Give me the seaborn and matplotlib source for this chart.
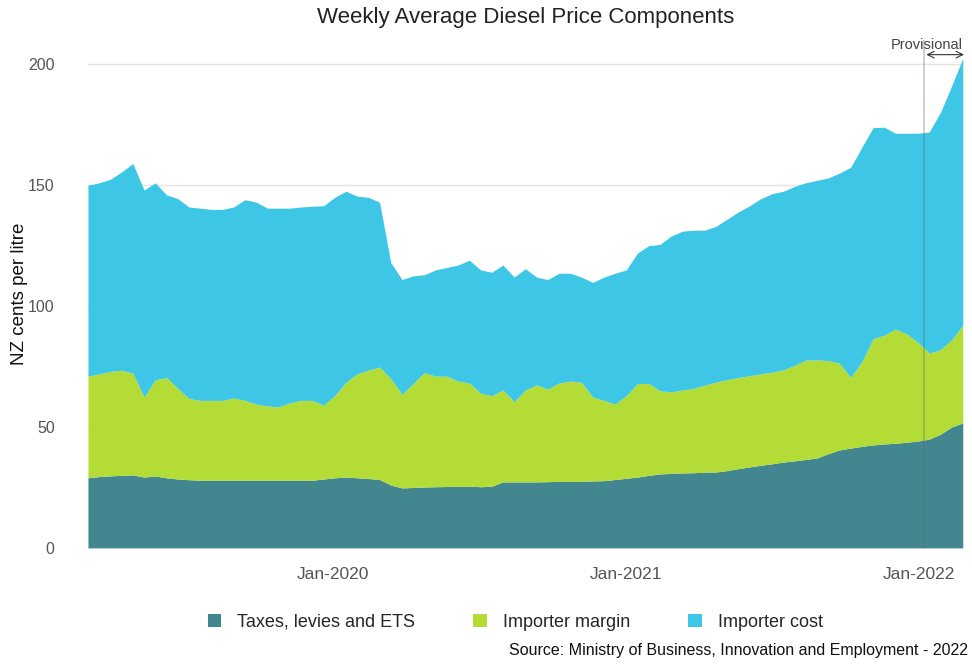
import pandas as pd
import numpy as np
import seaborn as sns
import matplotlib.pyplot as plt
import matplotlib.dates as mdates

# fortnightly readings, cents per litre
weeks = pd.date_range('2019-03-01', periods=79, freq='14D')

taxes = [29, 29.5, 29.8, 30, 30.2, 29.3, 29.7, 29, 28.5, 28.2,
         28, 28, 28, 28, 28, 28, 28, 28, 28, 28,
         28, 28.5, 29, 29.3, 29, 28.7, 28.3, 26, 24.8, 25,
         25.2, 25.3, 25.4, 25.5, 25.6, 25.3, 25.5, 27.3, 27.3, 27.3,
         27.3, 27.4, 27.5, 27.5, 27.6, 27.7, 27.8, 28.3, 28.8, 29.3,
         30, 30.6, 30.8, 31, 31.1, 31.3, 31.4, 32, 32.8, 33.5,
         34.2, 34.8, 35.5, 36, 36.6, 37.2, 39, 40.5, 41.3, 42,
         42.6, 43, 43.3, 43.7, 44.2, 45, 47, 50, 51.7]

margin = [42, 42.5, 43.2, 43.5, 42.1, 33.1, 39.8, 41.5, 37.5, 33.6,
          33, 33, 33, 34, 33, 31.5, 30.7, 30.3, 32, 33,
          33, 30.5, 34, 39.2, 43, 44.8, 46.5, 44, 38.7, 43,
          47.3, 45.7, 45.6, 43.5, 42.6, 38.7, 37.5, 38, 33.2, 38,
          40.1, 38.3, 40.7, 41.5, 40.9, 34.7, 33.2, 31.2, 34.2, 38.7,
          38, 34.4, 33.7, 34.3, 34.9, 36, 37.2, 37.6, 37.7, 37.7,
          37.8, 37.9, 38.1, 39.5, 41.1, 40.5, 38.5, 35.9, 29.2, 35,
          43.9, 45, 47.2, 44.8, 40.8, 35.6, 35, 36, 40.3]

cost = [79, 79, 79.5, 82, 86.7, 85.6, 81.5, 75.5, 78.5, 79.2,
        79.5, 79, 79, 79, 83, 83.5, 81.8, 82.2, 80.5, 80,
        80.3, 82.5, 82, 79, 73.5, 71.5, 68.2, 48, 47.5, 44.5,
        40.5, 44, 45, 48, 50.8, 51, 51, 51.7, 51.5, 50.2,
        44.6, 45.3, 45.4, 44.6, 43.5, 47.4, 51, 54.1, 52, 54,
        57, 60.5, 64.5, 65.7, 65.4, 64.1, 64.4, 66.4, 68.5, 70.3,
        72.5, 73.8, 73.9, 74, 73.3, 74.3, 75.5, 78.6, 86.9, 88.7,
        87.3, 86, 81, 83, 86.5, 91.4, 98, 105, 110.5]

labels = ['Taxes, levies and ETS', 'Importer margin', 'Importer cost']
colours = ['#42878F', '#B4DC36', '#3EC6E7']
provisional_from = pd.Timestamp('2022-01-07')

df = pd.DataFrame({'week': weeks, labels[0]: taxes,
                   labels[1]: margin, labels[2]: cost})

sns.set_theme(style='whitegrid')
plt.rcParams['font.family'] = ['Liberation Sans', 'DejaVu Sans']

fig = plt.figure(figsize=(9.72, 6.69), dpi=100)
ax = fig.add_axes([0.0905, 0.181, 0.9, 0.759])

ax.stackplot(df['week'], df[labels[0]], df[labels[1]], df[labels[2]],
             colors=colours, labels=labels, linewidth=0)

ax.set_xlim(weeks[0], weeks[-1])
ax.set_ylim(0, 210)
ax.set_yticks([0, 50, 100, 150, 200])
ax.set_xticks(pd.to_datetime(['2020-01-01', '2021-01-01', '2022-01-01']))
ax.xaxis.set_major_formatter(mdates.DateFormatter('%b-%Y'))
ax.grid(axis='x', visible=False)
ax.grid(axis='y', color='#e8e2e2', linewidth=1)
ax.set_axisbelow(True)
for s in ax.spines.values():
    s.set_visible(False)
ax.tick_params(axis='y', colors='#555555', labelsize=11.5, length=0, pad=24)
ax.tick_params(axis='x', colors='#555555', labelsize=12.5, length=0, pad=14)

ax.set_ylabel('NZ cents per litre', fontsize=13.5, color='#111111', labelpad=0)
ax.set_xlabel('')
ax.set_title('Weekly Average Diesel Price Components', fontsize=16,
             color='#222222', pad=12)

# provisional marker
ax.axvline(provisional_from, color='#556666', alpha=0.35, linewidth=1.2, zorder=3)
ax.annotate('', xy=(weeks[-1] + pd.Timedelta(days=5), 204),
            xytext=(provisional_from, 204),
            arrowprops=dict(arrowstyle='<->', color='#333333', lw=0.8),
            annotation_clip=False)
ax.text(provisional_from + pd.Timedelta(days=4), 205, 'Provisional',
        ha='center', va='bottom', fontsize=10.5, color='#444444', clip_on=False)

handles, lbls = ax.get_legend_handles_labels()
leg = fig.legend(handles, lbls, loc='center', bbox_to_anchor=(0.53, 0.07),
                 ncol=3, frameon=False, fontsize=13, handlelength=0.75,
                 handleheight=0.75, columnspacing=3.2, handletextpad=0.9)

fig.text(0.996, 0.028, 'Source: Ministry of Business, Innovation and Employment - 2022',
         ha='right', va='center', fontsize=11.5, color='#111111')

fig.savefig('out.png', dpi=100)
